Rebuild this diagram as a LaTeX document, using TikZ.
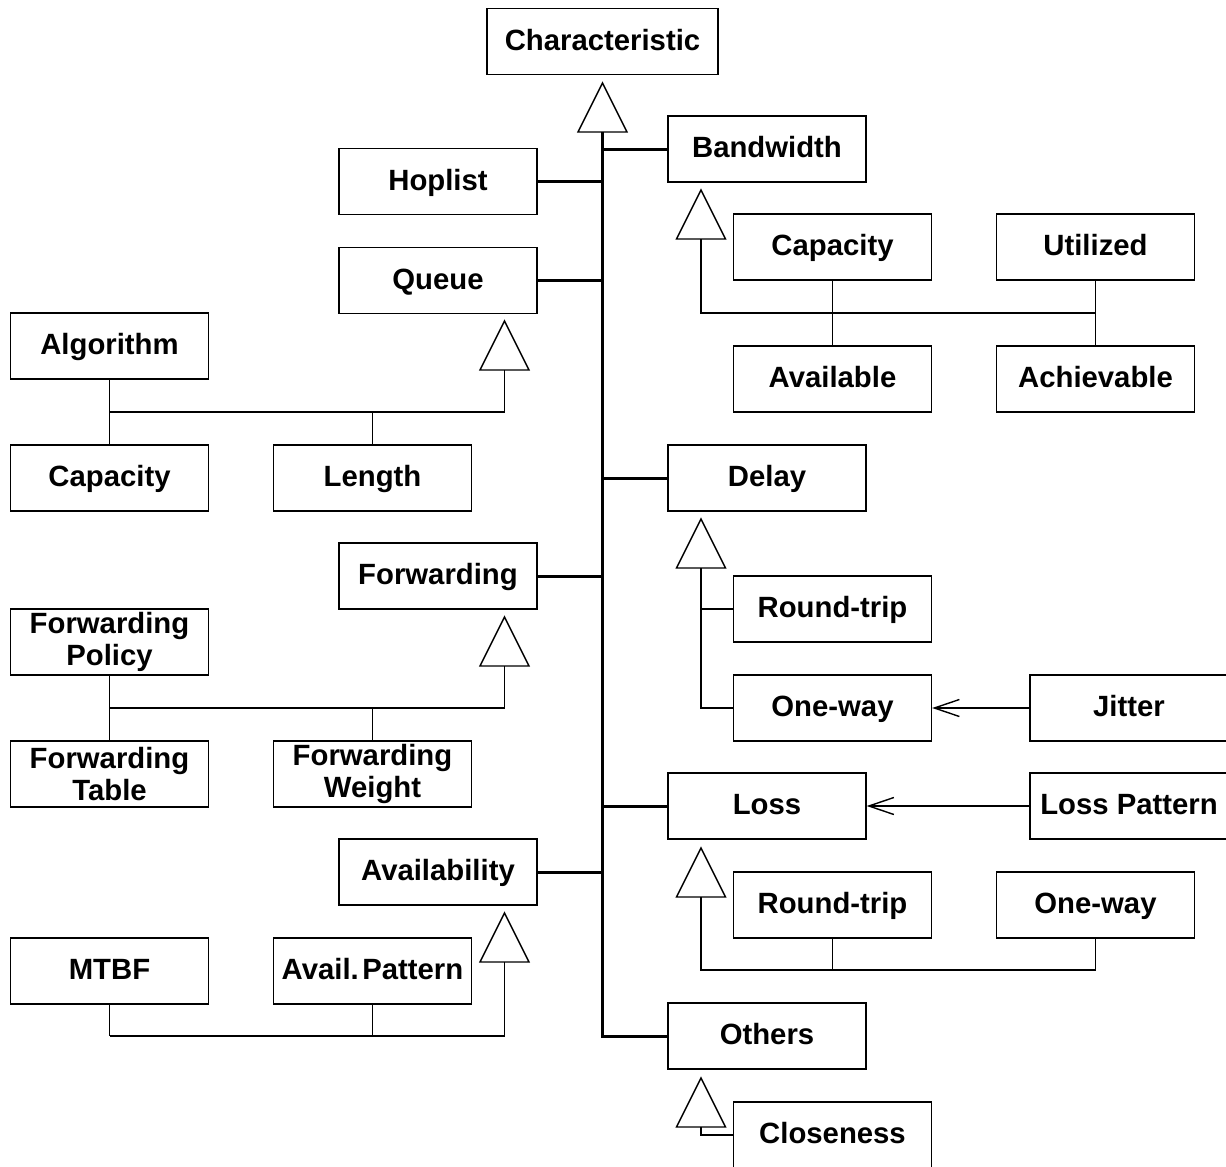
\documentclass[tikz,border=0pt]{standalone}
\usepackage{fontspec}
\setmainfont{Liberation Sans}
\usetikzlibrary{arrows.meta}
\begin{document}
\begin{tikzpicture}[x=1pt,y=-1pt,
  frame/.style={draw, line width=1.4pt, minimum width=198pt, minimum height=66pt,
    inner sep=0pt, align=center, font=\fontsize{29.3}{32}\selectfont\bfseries},
  box/.style={frame, text height=21pt, text depth=4pt},
  twoline/.style={frame},
  link/.style={line width=1.4pt},
  trunk/.style={line width=3pt},
  dep/.style={line width=1.4pt, -{Straight Barb[length=25pt,width=17pt]}},
  gentri/.pic={\draw[line width=1.4pt, fill=white] (0,0) -- (-24.5,49) -- (24.5,49) -- cycle;}
]
\useasboundingbox (0,0) rectangle (1226,1167);

% classes
\node[box, minimum width=231pt] (char) at (602.5,41.5) {Characteristic};
\node[box] (bw)    at (767,149)    {Bandwidth};
\node[box] (hop)   at (438,181.5)  {Hoplist};
\node[box] (bcap)  at (832.5,247)  {Capacity};
\node[box] (util)  at (1095.5,247) {Utilized};
\node[box] (queue) at (438,280.5)  {Queue};
\node[box] (alg)   at (109.5,346)  {Algorithm};
\node[box] (avail) at (832.5,379)  {Available};
\node[box] (achv)  at (1095.5,379) {Achievable};
\node[box] (qcap)  at (109.5,478)  {Capacity};
\node[box] (len)   at (372.5,478)  {Length};
\node[box] (delay) at (767,478)    {Delay};
\node[box] (fwd)   at (438,576)    {Forwarding};
\node[box] (drt)   at (832.5,609)  {Round-trip};
\node[twoline] (fpol) at (109.5,642) {Forwarding\\Policy};
\node[box] (dow)   at (832.5,708)  {One-way};
\node[box] (jit)   at (1129,708)   {Jitter};
\node[twoline] (ftab) at (109.5,774) {Forwarding\\Table};
\node[twoline] (fwt)  at (372.5,774) {Forwarding\\Weight};
\node[box] (loss)  at (767,806)    {Loss};
\node[box] (lpat)  at (1129,806)   {Loss Pattern};
\node[box] (avl)   at (438,872)    {Availability};
\node[box] (lrt)   at (832.5,905)  {Round-trip};
\node[box] (low)   at (1095.5,905) {One-way};
\node[box] (mtbf)  at (109.5,971)  {MTBF};
\node[box] (apat)  at (372.5,971)  {Avail.\hspace{0.12em}Pattern};
\node[box] (oth)   at (767,1036)   {Others};
\node[box] (clo)   at (832.5,1135) {Closeness};

% generalization triangles (apex positions) and the feet of their stems
\pic at (602.5,83)  {gentri}; \coordinate (t0) at (602.5,132);
\pic at (701,190)   {gentri}; \coordinate (t1) at (701,239);
\pic at (504.5,321) {gentri}; \coordinate (t2) at (504.5,370);
\pic at (701,519)   {gentri}; \coordinate (t3) at (701,568);
\pic at (504.5,617) {gentri}; \coordinate (t4) at (504.5,666);
\pic at (701,848)   {gentri}; \coordinate (t5) at (701,897);
\pic at (504.5,913) {gentri}; \coordinate (t6) at (504.5,962);
\pic at (701,1078)  {gentri}; \coordinate (t7) at (701,1127);

% main trunk of Characteristic
\draw[trunk] (t0) |- (oth.west);
\foreach \n in {bw,delay,loss} \draw[trunk] (\n.west) -- (\n.west -| t0);
\foreach \n in {hop,queue,fwd,avl} \draw[trunk] (\n.east) -- (\n.east -| t0);

% Bandwidth subclasses
\coordinate (bj) at (701,313);
\draw[link] (t1) -- (bj) -- (bj -| util.south);
\draw[link] (bcap.south) -- (avail.north);
\draw[link] (util.south) -- (achv.north);

% Queue subclasses
\coordinate (qj) at (504.5,412);
\draw[link] (t2) -- (qj) -- (qj -| alg.south);
\draw[link] (alg.south) -- (qcap.north);
\draw[link] (len.north) -- (len.north |- qj);

% Delay subclasses
\draw[link] (t3) |- (dow.west);
\draw[link] (drt.west) -- (drt.west -| t3);
\draw[dep] (jit.west) -- (dow.east);

% Forwarding subclasses
\coordinate (fj) at (504.5,708);
\draw[link] (t4) -- (fj) -- (fj -| fpol.south);
\draw[link] (fpol.south) -- (ftab.north);
\draw[link] (fwt.north) -- (fwt.north |- fj);

% Loss subclasses
\coordinate (lj) at (701,970);
\draw[link] (t5) -- (lj) -- (lj -| low.south);
\draw[link] (lrt.south) -- (lrt.south |- lj);
\draw[link] (low.south) -- (low.south |- lj);
\draw[dep] (lpat.west) -- (loss.east);

% Availability subclasses
\coordinate (aj) at (504.5,1036);
\draw[link] (t6) -- (aj) -- (aj -| mtbf.south);
\draw[link] (mtbf.south) -- (mtbf.south |- aj);
\draw[link] (apat.south) -- (apat.south |- aj);

% Others subclass
\draw[link] (t7) |- (clo.west);
\end{tikzpicture}
\end{document}
